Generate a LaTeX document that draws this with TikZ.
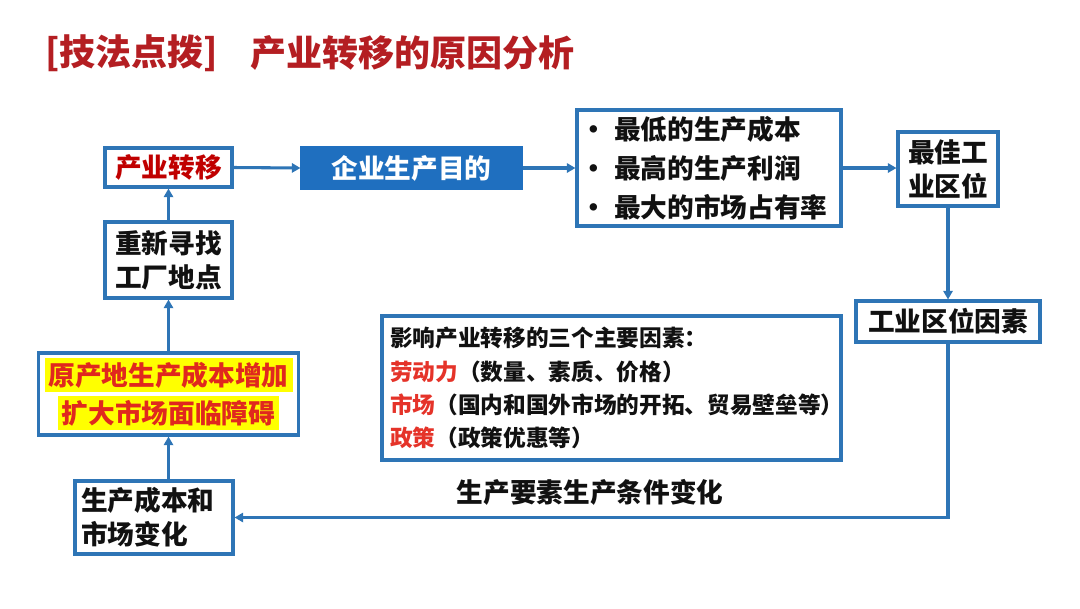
\documentclass[tikz,border=0pt]{standalone}
\usepackage{fontspec}
\setmainfont{Noto Sans CJK SC}
\usetikzlibrary{arrows.meta}
\definecolor{lineblue}{HTML}{2E75B6}
\definecolor{fillblue}{HTML}{1F6FBF}
\definecolor{titlered}{HTML}{B41E22}
\definecolor{zyred}{HTML}{C00000}
\definecolor{facred}{HTML}{E53329}
\definecolor{hlred}{HTML}{E0281E}
\definecolor{hlyellow}{HTML}{FFFF00}
\definecolor{ink}{HTML}{111111}
\newcommand{\bul}{\makebox[18pt][l]{\hspace*{-7pt}•}}
\begin{document}
\begin{tikzpicture}[x=0.75pt,y=-0.75pt,
  box/.style={draw=lineblue, line width=2.3pt, fill=white, inner sep=0pt, text=ink,
    font=\fontsize{20}{25.5}\selectfont\bfseries},
  conn/.style={draw=lineblue, line width=2.3pt, -{Triangle[length=6.5pt,width=7pt]}},
  titletext/.style={anchor=west, inner sep=0pt, text=titlered, font=\fontsize{27}{30}\selectfont\bfseries}
]
\useasboundingbox (0,0) rectangle (1080,608);

% title
\node[titletext] (t1) at (45,53) {[技法点拨]};
\node[titletext] (t2) at (250,53) {产业转移的原因分析};

% boxes
\node[box, minimum width=127*.75pt, minimum height=39*.75pt, text=zyred] (zy) at (168.5,167.5) {产业转移};
\node[box, draw=fillblue, fill=fillblue, text=white, minimum width=219*.75pt, minimum height=40*.75pt] (mudi) at (411.5,168) {企业生产目的};
\node[box, minimum width=264*.75pt, minimum height=116*.75pt, text width=238*.75pt, align=left,
  font=\fontsize{20}{29.5}\selectfont\bfseries] (goals) at (709,168)
  {\bul 最低的生产成本\\\bul 最高的生产利润\\\bul 最大的市场占有率};
\node[box, minimum width=100*.75pt, minimum height=74*.75pt, align=center] (best) at (948,169) {最佳工\\业区位};
\node[box, minimum width=184*.75pt, minimum height=41*.75pt] (factor) at (948,321.5) {工业区位因素};
\node[box, minimum width=127*.75pt, minimum height=76*.75pt, align=center] (rehome) at (168.5,260) {重新寻找\\工厂地点};
\node[box, minimum width=260*.75pt, minimum height=82*.75pt, align=center, text=hlred,
  font=\fontsize{20}{28.5}\selectfont\bfseries] (yuan) at (168.5,394)
  {\setlength{\fboxsep}{3pt}\colorbox{hlyellow}{原产地生产成本增加}\\\setlength{\fboxsep}{3pt}\colorbox{hlyellow}{扩大市场面临障碍}};
\node[box, minimum width=158*.75pt, minimum height=73*.75pt, text width=146*.75pt, align=left] (cost) at (154,517.5) {生产成本和\\市场变化};
\node[box, minimum width=459*.75pt, minimum height=144*.75pt, text width=443*.75pt, align=left,
  font=\fontsize{17}{24.5}\selectfont\bfseries] (three) at (611.5,388)
  {影响产业转移的三个主要因素：\\[1pt]
   \textcolor{facred}{劳动力}（数量、素质、价格）\\
   \textcolor{facred}{市场}（国内和国外市场的开拓、贸易壁垒等）\\
   \textcolor{facred}{政策}（政策优惠等）};
\node[inner sep=0pt, text=ink, font=\fontsize{20}{24}\selectfont\bfseries] (lbl) at (590,492) {生产要素生产条件变化};

% connectors
\draw[conn] (zy.east) -- (mudi.west);
\draw[conn] (mudi.east) -- (goals.west);
\draw[conn] (goals.east) -- (goals.east -| best.west);
\draw[conn] (best.south) -- (factor.north);
\draw[conn] (factor.south) -- (factor.south |- cost.east) -- (cost.east);
\draw[conn] (cost.north -| yuan.south) -- (yuan.south);
\draw[conn] (yuan.north) -- (rehome.south);
\draw[conn] (rehome.north) -- (zy.south);
\end{tikzpicture}
\end{document}
